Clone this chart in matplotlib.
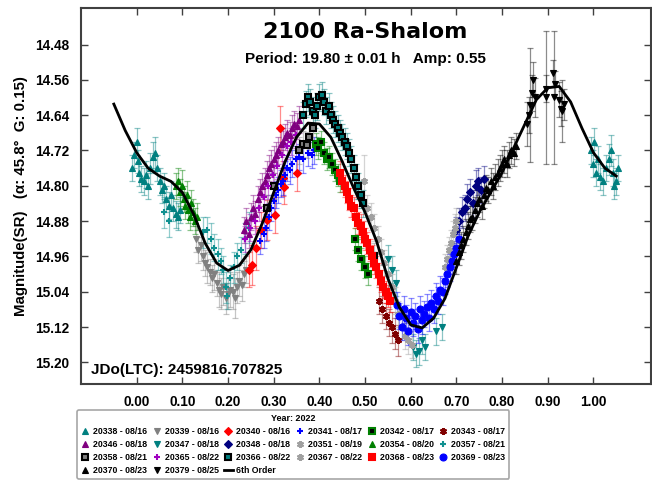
import numpy as np
import matplotlib
matplotlib.use("Agg")
import matplotlib.pyplot as plt
from matplotlib.lines import Line2D

plt.rcParams['font.family'] = ['Liberation Sans', 'DejaVu Sans']
plt.rcParams['font.weight'] = 'bold'

# (phase, magnitude, error) per session
s20338 = [(-0.010, 14.760, 0.03), (-0.005, 14.730, 0.03), (0.000, 14.700, 0.03), (0.003, 14.745, 0.025),
          (0.006, 14.770, 0.03), (0.010, 14.785, 0.03), (0.015, 14.790, 0.03), (0.020, 14.775, 0.03),
          (0.025, 14.800, 0.03), (0.030, 14.760, 0.035), (0.035, 14.735, 0.035), (0.040, 14.725, 0.035),
          (0.045, 14.760, 0.03), (0.050, 14.790, 0.03), (0.055, 14.810, 0.03), (0.060, 14.800, 0.03),
          (0.065, 14.830, 0.03), (0.070, 14.845, 0.03), (0.075, 14.820, 0.03), (0.080, 14.850, 0.03),
          (0.085, 14.865, 0.03), (0.090, 14.870, 0.03), (0.095, 14.855, 0.03),
          (0.995, 14.720, 0.03), (0.998, 14.750, 0.03), (1.002, 14.700, 0.03), (1.005, 14.770, 0.03),
          (1.010, 14.740, 0.03), (1.015, 14.780, 0.03), (1.020, 14.790, 0.03), (1.028, 14.760, 0.03),
          (1.033, 14.740, 0.035), (1.038, 14.720, 0.035), (1.042, 14.770, 0.03), (1.046, 14.800, 0.03),
          (1.050, 14.790, 0.03), (1.053, 14.760, 0.03)]
s20339 = [(0.130, 14.920, 0.03), (0.135, 14.945, 0.03), (0.140, 14.935, 0.035), (0.145, 14.960, 0.03),
          (0.150, 14.975, 0.03), (0.155, 14.985, 0.035), (0.160, 14.995, 0.03), (0.165, 15.010, 0.03),
          (0.170, 15.000, 0.035), (0.175, 15.020, 0.03), (0.180, 15.035, 0.04), (0.185, 15.045, 0.035),
          (0.190, 15.030, 0.04), (0.195, 15.055, 0.035), (0.200, 15.045, 0.035), (0.205, 15.035, 0.04),
          (0.210, 15.040, 0.04), (0.215, 15.055, 0.045), (0.220, 15.030, 0.035), (0.225, 15.015, 0.035),
          (0.230, 15.025, 0.035), (0.235, 15.000, 0.03), (0.240, 14.990, 0.03)]
s20340 = [(0.245, 14.990, 0.04), (0.252, 14.980, 0.045), (0.262, 14.940, 0.05), (0.272, 14.900, 0.04),
          (0.286, 14.878, 0.045), (0.302, 14.866, 0.04), (0.314, 14.670, 0.05), (0.321, 14.783, 0.04),
          (0.323, 14.802, 0.04), (0.350, 14.772, 0.04)]
s20341 = [(0.270, 14.925, 0.03), (0.278, 14.910, 0.03), (0.284, 14.895, 0.03), (0.290, 14.870, 0.03),
          (0.295, 14.850, 0.03), (0.300, 14.835, 0.03), (0.305, 14.820, 0.03), (0.310, 14.810, 0.03),
          (0.315, 14.795, 0.03), (0.320, 14.790, 0.03), (0.325, 14.775, 0.03), (0.330, 14.760, 0.03),
          (0.335, 14.765, 0.03), (0.340, 14.750, 0.03), (0.348, 14.740, 0.03), (0.355, 14.735, 0.03),
          (0.365, 14.740, 0.03), (0.375, 14.725, 0.03), (0.383, 14.730, 0.03), (0.388, 14.720, 0.03)]
s20342 = [(0.392, 14.705, 0.025), (0.398, 14.715, 0.025), (0.404, 14.700, 0.025), (0.410, 14.725, 0.025),
          (0.416, 14.740, 0.025), (0.422, 14.735, 0.025), (0.428, 14.750, 0.025), (0.434, 14.765, 0.025),
          (0.440, 14.775, 0.025), (0.446, 14.790, 0.025), (0.478, 14.920, 0.025), (0.485, 14.945, 0.025),
          (0.492, 14.965, 0.025), (0.500, 14.985, 0.025), (0.506, 15.000, 0.025)]
s20343 = [(0.530, 15.060, 0.03), (0.538, 15.080, 0.03), (0.545, 15.095, 0.03), (0.552, 15.110, 0.03),
          (0.558, 15.120, 0.035), (0.565, 15.135, 0.035), (0.572, 15.150, 0.035)]
s20346 = [(0.235, 14.900, 0.03), (0.240, 14.880, 0.03), (0.245, 14.910, 0.03), (0.250, 14.870, 0.03),
          (0.255, 14.850, 0.03), (0.260, 14.865, 0.03), (0.265, 14.830, 0.03), (0.270, 14.815, 0.03),
          (0.275, 14.800, 0.03), (0.280, 14.790, 0.03), (0.285, 14.775, 0.03), (0.290, 14.760, 0.03),
          (0.295, 14.750, 0.03), (0.300, 14.740, 0.03), (0.305, 14.730, 0.03), (0.310, 14.720, 0.03),
          (0.315, 14.705, 0.03), (0.320, 14.700, 0.03), (0.325, 14.690, 0.03), (0.330, 14.680, 0.03),
          (0.335, 14.685, 0.03), (0.340, 14.670, 0.03), (0.345, 14.660, 0.03), (0.350, 14.665, 0.03),
          (0.355, 14.650, 0.03)]
s20347 = [(0.550, 14.965, 0.03), (0.560, 14.990, 0.03), (0.568, 15.020, 0.03), (0.605, 15.165, 0.03),
          (0.612, 15.180, 0.03), (0.618, 15.175, 0.03), (0.625, 15.150, 0.03), (0.632, 15.165, 0.03),
          (0.655, 15.130, 0.03), (0.668, 15.120, 0.03)]
s20348 = [(0.700, 14.900, 0.03), (0.706, 14.880, 0.03), (0.712, 14.860, 0.035), (0.718, 14.850, 0.03),
          (0.724, 14.830, 0.035), (0.730, 14.815, 0.03), (0.736, 14.840, 0.03), (0.742, 14.800, 0.035),
          (0.748, 14.790, 0.03), (0.754, 14.810, 0.03), (0.760, 14.785, 0.03)]
s20351 = [(0.480, 14.800, 0.03), (0.490, 14.820, 0.03), (0.498, 14.790, 0.06), (0.505, 14.850, 0.03),
          (0.512, 14.870, 0.03), (0.520, 14.895, 0.03), (0.528, 14.920, 0.03), (0.535, 14.950, 0.03),
          (0.542, 14.975, 0.03), (0.550, 15.000, 0.03), (0.558, 15.030, 0.03), (0.565, 15.060, 0.03),
          (0.572, 15.090, 0.03), (0.580, 15.120, 0.03), (0.588, 15.140, 0.03)]
s20354 = [(0.085, 14.800, 0.03), (0.090, 14.790, 0.03), (0.095, 14.815, 0.03), (0.100, 14.800, 0.035),
          (0.103, 14.830, 0.03), (0.106, 14.845, 0.03), (0.110, 14.820, 0.03), (0.113, 14.855, 0.03),
          (0.117, 14.870, 0.03), (0.120, 14.840, 0.03), (0.124, 14.860, 0.03), (0.128, 14.880, 0.03),
          (0.132, 14.870, 0.03)]
s20357 = [(0.060, 14.860, 0.035), (0.070, 14.880, 0.035), (0.145, 14.905, 0.035), (0.155, 14.900, 0.03),
          (0.162, 14.920, 0.035), (0.170, 14.940, 0.03), (0.178, 14.955, 0.035), (0.185, 14.970, 0.03),
          (0.190, 14.990, 0.03), (0.195, 15.030, 0.035), (0.198, 15.050, 0.03), (0.205, 15.010, 0.03),
          (0.212, 14.985, 0.035), (0.220, 14.960, 0.03), (0.228, 14.945, 0.03), (0.238, 14.920, 0.035),
          (0.245, 14.895, 0.035)]
s20358 = [(0.285, 14.850, 0.03), (0.300, 14.800, 0.03), (0.355, 14.720, 0.03), (0.365, 14.705, 0.03),
          (0.372, 14.708, 0.03), (0.378, 14.690, 0.03), (0.385, 14.670, 0.03), (0.520, 14.960, 0.03)]
s20365 = [(0.238, 14.920, 0.03), (0.248, 14.895, 0.03), (0.258, 14.880, 0.03), (0.268, 14.850, 0.03),
          (0.278, 14.825, 0.03), (0.288, 14.800, 0.03), (0.298, 14.775, 0.03), (0.308, 14.755, 0.03),
          (0.318, 14.730, 0.03), (0.328, 14.710, 0.03), (0.338, 14.700, 0.03), (0.348, 14.685, 0.03)]
s20366 = [(0.365, 14.640, 0.03), (0.370, 14.615, 0.03), (0.375, 14.600, 0.03), (0.380, 14.610, 0.03),
          (0.385, 14.630, 0.03), (0.390, 14.640, 0.03), (0.395, 14.620, 0.03), (0.400, 14.600, 0.03),
          (0.405, 14.595, 0.03), (0.410, 14.610, 0.03), (0.415, 14.630, 0.03), (0.420, 14.620, 0.03),
          (0.425, 14.640, 0.03), (0.430, 14.650, 0.03), (0.435, 14.660, 0.03), (0.440, 14.670, 0.03),
          (0.445, 14.680, 0.03), (0.450, 14.690, 0.03), (0.455, 14.700, 0.03), (0.460, 14.710, 0.03),
          (0.465, 14.725, 0.03), (0.470, 14.740, 0.03), (0.475, 14.760, 0.03), (0.480, 14.780, 0.03),
          (0.485, 14.800, 0.03), (0.490, 14.820, 0.03), (0.495, 14.840, 0.03)]
s20367 = [(0.675, 14.985, 0.03), (0.680, 14.965, 0.03), (0.684, 14.945, 0.03), (0.688, 14.930, 0.03),
          (0.692, 14.910, 0.03), (0.696, 14.895, 0.03), (0.700, 14.880, 0.03), (0.595, 15.150, 0.03),
          (0.602, 15.160, 0.03)]
s20368 = [(0.445, 14.770, 0.025), (0.450, 14.790, 0.025), (0.455, 14.800, 0.025), (0.460, 14.815, 0.025),
          (0.465, 14.830, 0.025), (0.470, 14.845, 0.025), (0.475, 14.850, 0.025), (0.480, 14.870, 0.025),
          (0.485, 14.885, 0.025), (0.490, 14.890, 0.025), (0.495, 14.905, 0.025), (0.500, 14.920, 0.025),
          (0.505, 14.930, 0.025), (0.510, 14.945, 0.025), (0.515, 14.960, 0.025), (0.520, 14.975, 0.025),
          (0.525, 14.985, 0.025), (0.530, 15.000, 0.025), (0.535, 15.015, 0.025), (0.540, 15.030, 0.025),
          (0.545, 15.040, 0.025), (0.550, 15.050, 0.025), (0.555, 15.060, 0.025)]
s20369 = [(0.570, 15.070, 0.03), (0.575, 15.095, 0.03), (0.580, 15.120, 0.03), (0.585, 15.080, 0.03),
          (0.590, 15.100, 0.03), (0.595, 15.130, 0.03), (0.600, 15.085, 0.03), (0.605, 15.110, 0.03),
          (0.610, 15.095, 0.03), (0.615, 15.125, 0.03), (0.620, 15.080, 0.03), (0.625, 15.105, 0.03),
          (0.630, 15.090, 0.03), (0.635, 15.075, 0.03), (0.640, 15.100, 0.03), (0.645, 15.065, 0.03),
          (0.650, 15.080, 0.03), (0.655, 15.050, 0.03), (0.660, 15.060, 0.03), (0.665, 15.035, 0.03),
          (0.670, 15.040, 0.03), (0.675, 15.015, 0.03), (0.680, 15.000, 0.03), (0.685, 14.985, 0.03),
          (0.690, 14.970, 0.03), (0.695, 14.955, 0.03), (0.700, 14.940, 0.03), (0.705, 14.920, 0.03)]
s20370 = [(0.700, 14.970, 0.03), (0.705, 14.950, 0.03), (0.710, 14.935, 0.03), (0.715, 14.920, 0.03),
          (0.720, 14.905, 0.03), (0.725, 14.890, 0.03), (0.730, 14.875, 0.03), (0.735, 14.870, 0.03),
          (0.740, 14.855, 0.03), (0.745, 14.840, 0.03), (0.750, 14.830, 0.03), (0.755, 14.845, 0.03),
          (0.760, 14.820, 0.03), (0.765, 14.805, 0.03), (0.770, 14.810, 0.03), (0.775, 14.790, 0.03),
          (0.780, 14.800, 0.03), (0.785, 14.780, 0.03), (0.790, 14.770, 0.03), (0.795, 14.760, 0.03),
          (0.800, 14.750, 0.03), (0.805, 14.740, 0.03), (0.810, 14.750, 0.03), (0.815, 14.730, 0.03),
          (0.820, 14.720, 0.03), (0.825, 14.725, 0.03), (0.830, 14.710, 0.03)]
s20379 = [(0.855, 14.660, 0.05), (0.858, 14.640, 0.04), (0.862, 14.617, 0.13), (0.866, 14.590, 0.04),
          (0.868, 14.560, 0.04), (0.872, 14.600, 0.045), (0.895, 14.580, 0.03), (0.897, 14.600, 0.15),
          (0.912, 14.545, 0.03), (0.913, 14.600, 0.15), (0.915, 14.570, 0.03), (0.925, 14.605, 0.04),
          (0.928, 14.625, 0.04), (0.932, 14.630, 0.07), (0.935, 14.615, 0.035)]

# 6th order fit
fit_phase = [-0.05, -0.025, 0.0, 0.025, 0.05, 0.075, 0.1, 0.125, 0.15, 0.175, 0.2, 0.225, 0.25,
             0.275, 0.3, 0.325, 0.35, 0.375, 0.4, 0.425, 0.45, 0.475, 0.5, 0.525, 0.55, 0.575,
             0.6, 0.625, 0.65, 0.675, 0.7, 0.725, 0.75, 0.775, 0.8, 0.825, 0.85, 0.875, 0.9,
             0.925, 0.95, 0.975, 1.0, 1.025, 1.05]
fit_mag = [14.615, 14.675, 14.725, 14.760, 14.778, 14.790, 14.815, 14.865, 14.930, 14.975, 14.992,
           14.980, 14.945, 14.885, 14.815, 14.745, 14.690, 14.658, 14.660, 14.690, 14.745, 14.805,
           14.860, 14.925, 15.010, 15.075, 15.115, 15.122, 15.100, 15.055, 14.985, 14.915, 14.860,
           14.815, 14.770, 14.715, 14.660, 14.605, 14.578, 14.575, 14.610, 14.670, 14.725, 14.760,
           14.778]

sessions = [
    (s20338, "20338 - 08/16", '^', '#008080', '#008080'),
    (s20339, "20339 - 08/16", 'v', '#808080', '#808080'),
    (s20340, "20340 - 08/16", 'D', '#ff0000', '#ff0000'),
    (s20341, "20341 - 08/17", '+', '#0000ff', '#0000ff'),
    (s20342, "20342 - 08/17", 's', '#000000', '#008000'),
    (s20343, "20343 - 08/17", (6, 2, 0), '#800000', '#800000'),
    (s20346, "20346 - 08/18", '^', '#800080', '#800080'),
    (s20347, "20347 - 08/18", 'v', '#008080', '#008080'),
    (s20348, "20348 - 08/18", 'D', '#000080', '#000080'),
    (s20351, "20351 - 08/19", (6, 2, 0), '#a0a0a0', '#a0a0a0'),
    (s20354, "20354 - 08/20", '^', '#008000', '#008000'),
    (s20357, "20357 - 08/21", '+', '#109090', '#109090'),
    (s20358, "20358 - 08/21", 's', '#808080', '#000000'),
    (s20365, "20365 - 08/22", '+', '#a000c0', '#a000c0'),
    (s20366, "20366 - 08/22", 's', '#008080', '#000000'),
    (s20367, "20367 - 08/22", (6, 2, 0), '#a0a0a0', '#a0a0a0'),
    (s20368, "20368 - 08/23", 's', '#ff0000', '#ff0000'),
    (s20369, "20369 - 08/23", 'o', '#0000ff', '#0000ff'),
    (s20370, "20370 - 08/23", '^', '#000000', '#000000'),
    (s20379, "20379 - 08/25", 'v', '#000000', '#000000'),
]

fig = plt.figure(figsize=(6.52, 4.8), dpi=100)
ax = fig.add_axes([0.1238, 0.2, 0.874, 0.7827])

handles = {}
for data, label, marker, face, edge in sessions:
    arr = np.array(data)
    ecol = face if edge == '#000000' and face != '#000000' else edge
    ax.errorbar(arr[:, 0], arr[:, 1], yerr=arr[:, 2], fmt='none', ecolor=ecol, alpha=0.45,
                elinewidth=0.9, capsize=2, capthick=0.9, zorder=2)
    mew = 1.5 if marker in ('+', 's') or isinstance(marker, tuple) else 0.8
    ms = 4 if marker == 'D' else 5
    ax.plot(arr[:, 0], arr[:, 1], linestyle='none', marker=marker, ms=ms, mfc=face, mec=edge,
            mew=mew, zorder=3)
    handles[label] = Line2D([], [], linestyle='none', marker=marker, ms=ms, mfc=face, mec=edge, mew=mew)

ax.plot(fit_phase, fit_mag, color='black', lw=2, zorder=5)
handles["6th Order"] = Line2D([], [], color='black', lw=2)

ax.set_xlim(-0.1225, 1.125)
ax.set_ylim(15.249, 14.398)
ax.set_xticks(np.arange(0, 1.01, 0.1))
ax.set_xticklabels([f"{v:.2f}" for v in np.arange(0, 1.01, 0.1)])
yt = [14.48, 14.56, 14.64, 14.72, 14.80, 14.88, 14.96, 15.04, 15.12, 15.20]
ax.set_yticks(yt)
ax.set_yticklabels([f"{v:.2f}" for v in yt])
ax.tick_params(direction='in', length=5, width=1, top=True, right=True, labelsize=9.8,
               colors='#404040', labelcolor='black', pad=8)
for lab in ax.get_xticklabels() + ax.get_yticklabels():
    lab.set_fontweight('bold')
for sp in ax.spines.values():
    sp.set_linewidth(1.5)
    sp.set_color('#404040')

ax.set_ylabel("Magnitude(SR)   (α: 45.8°  G: 0.15)", fontsize=10.8, fontweight='bold', labelpad=5)
ax.text(0.5, 0.937, "2100 Ra-Shalom", transform=ax.transAxes, ha='center', va='center',
        fontsize=16, fontweight='bold', family=['DejaVu Sans'])
ax.text(0.5, 0.866, "Period: 19.80 ± 0.01 h   Amp: 0.55", transform=ax.transAxes, ha='center',
        va='center', fontsize=11, fontweight='bold')
ax.text(0.018, 0.037, "JDo(LTC): 2459816.707825", transform=ax.transAxes, ha='left', va='center',
        fontsize=11, fontweight='bold')

# legend in column-major order so rows read like the original
order = ["20338 - 08/16", "20346 - 08/18", "20358 - 08/21", "20370 - 08/23",
         "20339 - 08/16", "20347 - 08/18", "20365 - 08/22", "20379 - 08/25",
         "20340 - 08/16", "20348 - 08/18", "20366 - 08/22", "6th Order",
         "20341 - 08/17", "20351 - 08/19", "20367 - 08/22",
         "20342 - 08/17", "20354 - 08/20", "20368 - 08/23",
         "20343 - 08/17", "20357 - 08/21", "20369 - 08/23"]
leg = fig.legend([handles[k] for k in order], order, ncol=6, loc='upper left',
                 bbox_to_anchor=(0.118, 0.146), bbox_transform=fig.transFigure,
                 title="Year: 2022", fontsize=6.3, title_fontsize=6.5, handlelength=1.0,
                 handletextpad=0.4, columnspacing=0.6, labelspacing=0.45,
                 borderpad=0.45, borderaxespad=0, frameon=True, fancybox=True,
                 edgecolor='#909090')
leg.get_title().set_fontweight('bold')
leg.get_frame().set_linewidth(1.2)

fig.savefig("out.png", dpi=100)
